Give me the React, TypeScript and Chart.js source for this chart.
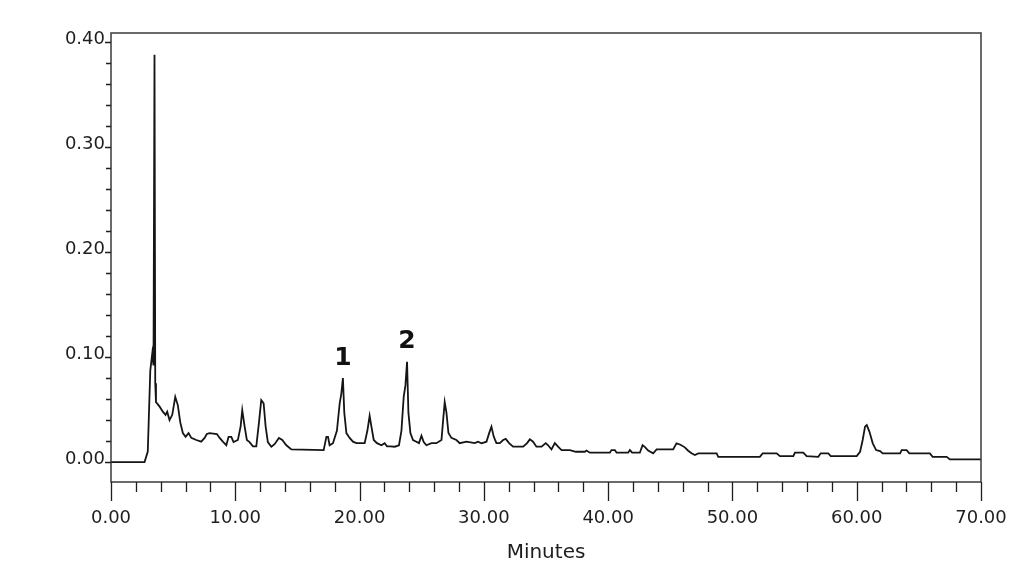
import { useEffect, useRef } from "react";
import { Chart, registerables } from "chart.js";

Chart.register(...registerables);

// Retention time (min) and detector response (AU) of the chromatogram trace
const retentionTimes = [
  0, 2.7, 2.96, 3.16, 3.32, 3.42, 3.5, 3.56, 3.62, 3.9, 4.17, 4.39, 4.52, 4.71, 4.93, 5.17,
  5.38, 5.57, 5.78, 6.0, 6.24, 6.46, 6.86, 7.26, 7.53, 7.71, 7.93, 8.52, 8.74, 9.0, 9.28, 9.46,
  9.68, 9.86, 10.21, 10.43, 10.56, 10.75, 10.93, 11.15, 11.42, 11.69, 11.9, 12.09, 12.28, 12.44,
  12.62, 12.9, 13.16, 13.51, 13.78, 14.11, 14.51, 17.11, 17.33, 17.46, 17.59, 17.86, 18.18,
  18.4, 18.53, 18.66, 18.77, 18.94, 19.2, 19.47, 19.74, 20.41, 20.63, 20.81, 20.95, 21.14,
  21.4, 21.76, 22.02, 22.21, 22.48, 22.83, 23.17, 23.37, 23.55, 23.69, 23.82, 23.93, 24.09,
  24.3, 24.57, 24.78, 24.98, 25.16, 25.38, 25.78, 26.18, 26.59, 26.71, 26.85, 26.99, 27.15,
  27.39, 27.79, 28.06, 28.6, 29.27, 29.53, 29.81, 30.21, 30.42, 30.61, 30.8, 31.01, 31.28,
  31.55, 31.76, 32.03, 32.35, 33.16, 33.48, 33.7, 33.96, 34.23, 34.64, 34.98, 35.17, 35.44,
  35.71, 35.97, 36.25, 36.92, 37.4, 38.12, 38.26, 38.53, 40.14, 40.27, 40.54, 40.68, 41.61,
  41.75, 41.93, 42.55, 42.77, 42.95, 43.22, 43.62, 43.9, 45.23, 45.5, 45.82, 46.17, 46.44,
  46.71, 46.98, 47.25, 48.73, 48.86, 52.21, 52.43, 53.56, 53.82, 54.9, 55.03, 55.7, 55.97,
  56.91, 57.1, 57.71, 57.91, 60.0, 60.27, 60.48, 60.67, 60.81, 61.02, 61.29, 61.56, 61.88,
  62.09, 63.49, 63.62, 64.02, 64.23, 65.89, 66.11, 67.24, 67.5, 70.0,
];

const absorbance = [
  0, 0, 0.01, 0.087, 0.1035, 0.092, 0.388, 0.075, 0.057, 0.053, 0.048, 0.045, 0.048, 0.04,
  0.045, 0.062, 0.054, 0.038, 0.0276, 0.024, 0.0276, 0.023, 0.021, 0.0194, 0.023, 0.0267,
  0.0276, 0.0267, 0.023, 0.0194, 0.016, 0.024, 0.024, 0.019, 0.021, 0.034, 0.0495, 0.034,
  0.021, 0.019, 0.015, 0.015, 0.037, 0.059, 0.056, 0.034, 0.019, 0.0146, 0.017, 0.023, 0.021,
  0.016, 0.012, 0.0114, 0.024, 0.024, 0.016, 0.018, 0.03, 0.056, 0.065, 0.08, 0.047, 0.0276,
  0.023, 0.0194, 0.018, 0.018, 0.03, 0.044, 0.034, 0.021, 0.018, 0.016, 0.018, 0.015, 0.015,
  0.0146, 0.016, 0.03, 0.062, 0.073, 0.0955, 0.047, 0.0276, 0.021, 0.0194, 0.018, 0.025,
  0.019, 0.016, 0.018, 0.018, 0.021, 0.038, 0.057, 0.047, 0.0276, 0.023, 0.021, 0.018,
  0.0194, 0.018, 0.0194, 0.0178, 0.0194, 0.0273, 0.0336, 0.024, 0.018, 0.018, 0.021, 0.022,
  0.018, 0.0146, 0.0146, 0.018, 0.0216, 0.0194, 0.0146, 0.0146, 0.018, 0.016, 0.012, 0.018,
  0.0146, 0.0114, 0.0114, 0.0098, 0.0098, 0.011, 0.0089, 0.0089, 0.0114, 0.0114, 0.0089,
  0.0089, 0.0114, 0.0089, 0.0089, 0.016, 0.0145, 0.011, 0.0083, 0.012, 0.012, 0.0178, 0.0165,
  0.014, 0.0108, 0.0083, 0.0067, 0.0083, 0.0083, 0.005, 0.005, 0.0083, 0.0083, 0.0057,
  0.0057, 0.009, 0.009, 0.0057, 0.005, 0.0083, 0.0083, 0.0057, 0.0057, 0.0098, 0.021, 0.0337,
  0.0352, 0.029, 0.0178, 0.0114, 0.0105, 0.0083, 0.0083, 0.0114, 0.0114, 0.0083, 0.0083,
  0.005, 0.005, 0.0025, 0.0025,
];

// Numbered peaks and their retention times
const peakNumbers = ["1", "2"];
const peakTimes = [18.66, 23.82];

// Axis ticks: every tick mark, and the ones that carry a label
const minuteTicks = [
  0, 2, 4, 6, 8, 10, 12, 14, 16, 18, 20, 22, 24, 26, 28, 30, 32, 34, 36, 38, 40, 42, 44, 46,
  48, 50, 52, 54, 56, 58, 60, 62, 64, 66, 68, 70,
];
const minuteLabels = [0, 10, 20, 30, 40, 50, 60, 70];
const responseTicks = [
  0, 0.02, 0.04, 0.06, 0.08, 0.1, 0.12, 0.14, 0.16, 0.18, 0.2, 0.22, 0.24, 0.26, 0.28, 0.3,
  0.32, 0.34, 0.36, 0.38, 0.4,
];
const responseLabels = [0, 0.1, 0.2, 0.3, 0.4];

const isLabelled = (v: number, list: number[]) => list.some((l) => Math.abs(l - v) < 1e-6);

const FONT = "'DejaVu Sans', 'Liberation Sans', sans-serif";
const INK = "#1e1e1e";

const framePlugin = {
  id: "chromFrame",
  afterDatasetsDraw(chart: any) {
    const { ctx, chartArea, scales } = chart;
    const { left, right, top, bottom } = chartArea;
    ctx.save();
    ctx.strokeStyle = "#3a3a3a";
    ctx.lineWidth = 1.5;
    ctx.strokeRect(left, top, right - left, bottom - top);

    ctx.lineWidth = 1.3;
    ctx.strokeStyle = INK;
    ctx.beginPath();
    for (const v of minuteTicks) {
      const px = Math.round(scales.x.getPixelForValue(v)) + 0.5;
      const len = isLabelled(v, minuteLabels) ? 19 : 10;
      ctx.moveTo(px, bottom);
      ctx.lineTo(px, bottom + len);
    }
    for (const v of responseTicks) {
      const py = Math.round(scales.y.getPixelForValue(v)) + 0.5;
      const len = isLabelled(v, responseLabels) ? 6 : 5;
      ctx.moveTo(left - len, py);
      ctx.lineTo(left, py);
    }
    ctx.stroke();

    // peak numbers above their peaks
    ctx.fillStyle = "#111111";
    ctx.font = `bold 25px ${FONT}`;
    ctx.textAlign = "center";
    ctx.textBaseline = "middle";
    peakNumbers.forEach((label, i) => {
      const idx = retentionTimes.indexOf(peakTimes[i]);
      const px = scales.x.getPixelForValue(peakTimes[i]);
      const py = scales.y.getPixelForValue(absorbance[idx]);
      ctx.fillText(label, px, py - 20);
    });
    ctx.restore();
  },
};

export default function App() {
  const canvasRef = useRef<HTMLCanvasElement | null>(null);

  useEffect(() => {
    if (!canvasRef.current) return;
    const points = retentionTimes.map((t, i) => ({ x: t, y: absorbance[i] }));
    const chart = new Chart(canvasRef.current, {
      type: "line",
      data: {
        datasets: [
          {
            data: points,
            borderColor: "#151515",
            borderWidth: 1.8,
            pointRadius: 0,
            tension: 0,
            fill: false,
          },
        ],
      },
      options: {
        animation: false,
        responsive: false,
        devicePixelRatio: 1,
        layout: { padding: { top: 33, right: 32, left: 0, bottom: 0 } },
        plugins: {
          legend: { display: false },
          tooltip: { enabled: false },
        },
        scales: {
          x: {
            type: "linear",
            min: 0,
            max: 70,
            grid: { display: false, drawTicks: false },
            border: { display: false },
            afterBuildTicks: (scale: any) => {
              scale.ticks = minuteTicks.map((v) => ({ value: v }));
            },
            afterFit: (scale: any) => {
              scale.height = 83;
              scale.paddingLeft = 0;
              scale.paddingRight = 0;
            },
            ticks: {
              autoSkip: false,
              maxRotation: 0,
              padding: 26,
              color: INK,
              font: { family: FONT, size: 18 },
              callback: (v: any) => (isLabelled(Number(v), minuteLabels) ? Number(v).toFixed(2) : ""),
            },
            title: {
              display: true,
              text: "Minutes",
              color: INK,
              font: { family: FONT, size: 20 },
              padding: { top: 0, bottom: 0 },
            },
          },
          y: {
            type: "linear",
            min: -0.019,
            max: 0.4086,
            grid: { display: false, drawTicks: false },
            border: { display: false },
            afterBuildTicks: (scale: any) => {
              scale.ticks = responseTicks.map((v) => ({ value: v }));
            },
            afterFit: (scale: any) => {
              scale.width = 111;
              scale.paddingTop = 0;
              scale.paddingBottom = 0;
            },
            ticks: {
              autoSkip: false,
              padding: 6,
              labelOffset: -3,
              color: INK,
              font: { family: FONT, size: 18 },
              callback: (v: any) => (isLabelled(Number(v), responseLabels) ? Number(v).toFixed(2) : ""),
            },
          },
        },
      },
      plugins: [framePlugin],
    });
    return () => chart.destroy();
  }, []);

  return (
    <div style={{ width: "1013px", height: "565px", background: "#ffffff" }}>
      <style>{"body{margin:0;overflow:hidden;background:#ffffff}"}</style>
      <canvas ref={canvasRef} width={1013} height={565} style={{ display: "block" }} />
    </div>
  );
}
